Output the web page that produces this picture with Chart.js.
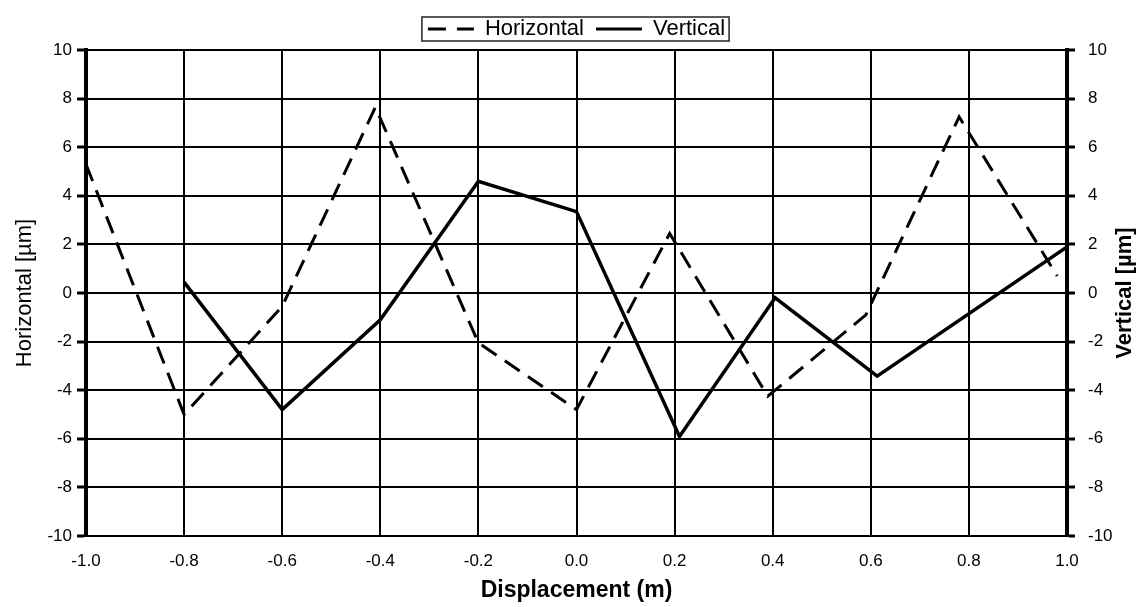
<!DOCTYPE html>
<html>
<head>
<meta charset="utf-8">
<script src="https://cdn.jsdelivr.net/npm/chart.js@4/dist/chart.umd.min.js"></script>
<style>
  html, body { margin: 0; padding: 0; background: #ffffff; }
  #wrap { width: 1140px; height: 607px; }
</style>
</head>
<body>
<div id="wrap"><canvas id="c" width="1140" height="607"></canvas></div>
<script>
// ---- data ----
const seriesNames = ['Horizontal', 'Vertical'];
const horizontalX = [-1.0, -0.8, -0.6, -0.41, -0.2, 0.0, 0.19, 0.39, 0.59, 0.78, 0.98];
const horizontalY = [5.3, -5.0, -0.55, 7.65, -2.05, -4.8, 2.45, -4.25, -0.9, 7.25, 0.7];
const verticalX = [-0.8, -0.6, -0.4, -0.2, 0.0, 0.21, 0.405, 0.613, 1.0];
const verticalY = [0.45, -4.8, -1.1, 4.6, 3.35, -5.9, -0.2, -3.42, 1.9];
const xTickValues = [-1.0, -0.8, -0.6, -0.4, -0.2, 0.0, 0.2, 0.4, 0.6, 0.8, 1.0];
const yTickValues = [-10, -8, -6, -4, -2, 0, 2, 4, 6, 8, 10];
const xTitle = 'Displacement (m)';
const yLeftTitle = 'Horizontal [\u00b5m]';
const yRightTitle = 'Vertical [\u00b5m]';

const FONT = "'Liberation Sans', Arial, Helvetica, sans-serif";
Chart.defaults.font.family = FONT;
Chart.defaults.color = '#000';

const toPts = (xs, ys) => xs.map((x, i) => ({ x: x, y: ys[i] }));

const legendBox = {
  id: 'legendBox',
  afterDraw(chart) {
    const lg = chart.legend;
    if (!lg || !lg.legendHitBoxes || !lg.legendHitBoxes.length) return;
    const hb = lg.legendHitBoxes;
    let l = Infinity, r = -Infinity, t = Infinity, b = -Infinity;
    hb.forEach(h => {
      l = Math.min(l, h.left); r = Math.max(r, h.left + h.width);
      t = Math.min(t, h.top); b = Math.max(b, h.top + h.height);
    });
    const ctx = chart.ctx;
    ctx.save();
    ctx.strokeStyle = '#222';
    ctx.lineWidth = 1.5;
    ctx.strokeRect(l - 6, t - 1, (r - l) + 10, (b - t) + 2);
    ctx.restore();
  }
};

const rightTitle = {
  id: 'rightTitle',
  afterDraw(chart) {
    const ca = chart.chartArea;
    const ctx = chart.ctx;
    ctx.save();
    ctx.translate(1125, (ca.top + ca.bottom) / 2);
    ctx.rotate(-Math.PI / 2);
    ctx.textAlign = 'center';
    ctx.textBaseline = 'middle';
    ctx.fillStyle = '#000';
    ctx.font = 'bold 22px ' + FONT;
    ctx.fillText(yRightTitle, 0, 0);
    ctx.restore();
  }
};

new Chart(document.getElementById('c'), {
  type: 'line',
  data: {
    datasets: [
      {
        label: seriesNames[0],
        data: toPts(horizontalX, horizontalY),
        borderColor: '#000',
        backgroundColor: '#000',
        borderWidth: 3,
        borderDash: [18, 10],
        pointRadius: 0,
        tension: 0,
        fill: false,
        yAxisID: 'y'
      },
      {
        label: seriesNames[1],
        data: toPts(verticalX, verticalY),
        borderColor: '#000',
        backgroundColor: '#000',
        borderWidth: 3.5,
        pointRadius: 0,
        tension: 0,
        fill: false,
        yAxisID: 'y2'
      }
    ]
  },
  options: {
    responsive: false,
    animation: false,
    layout: { padding: 0 },
    plugins: {
      tooltip: { enabled: false },
      legend: {
        display: true,
        position: 'top',
        fullSize: false,
        labels: {
          usePointStyle: true,
          pointStyle: 'line',
          pointStyleWidth: 46,
          padding: 12,
          color: '#000',
          font: { size: 22 },
          generateLabels: (chart) => {
            const items = Chart.defaults.plugins.legend.labels.generateLabels(chart);
            items.forEach(it => {
              const ds = chart.data.datasets[it.datasetIndex];
              it.lineDash = ds.borderDash ? [18, 11] : [];
              it.lineWidth = 3;
              it.strokeStyle = '#000';
              it.pointStyle = 'line';
            });
            return items;
          }
        }
      }
    },
    scales: {
      x: {
        type: 'linear',
        min: -1,
        max: 1,
        afterBuildTicks: (s) => { s.ticks = xTickValues.map(v => ({ value: v })); },
        afterFit: (s) => { s.height = 71; },
        ticks: {
          color: '#000',
          font: { size: 17 },
          padding: 15,
          maxRotation: 0,
          callback: (v) => Number(v).toFixed(1)
        },
        grid: { color: '#000', lineWidth: 2, drawTicks: false },
        border: { display: true, color: '#000', width: 2 },
        title: {
          display: true,
          text: xTitle,
          color: '#000',
          font: { size: 23, weight: 'bold' },
          padding: { top: 4, bottom: 3 }
        }
      },
      y: {
        type: 'linear',
        position: 'left',
        min: -10,
        max: 10,
        afterBuildTicks: (s) => { s.ticks = yTickValues.map(v => ({ value: v })); },
        afterFit: (s) => { s.width = 86; s.paddingTop = 50; },
        ticks: { color: '#000', font: { size: 17 }, padding: 5 },
        grid: { color: '#000', lineWidth: 2, tickLength: 9, tickWidth: 3, tickColor: '#000' },
        border: { display: true, color: '#000', width: 4 },
        title: {
          display: true,
          text: yLeftTitle,
          color: '#000',
          font: { size: 22 },
          padding: { top: 12, bottom: 0 }
        }
      },
      y2: {
        type: 'linear',
        position: 'right',
        min: -10,
        max: 10,
        afterBuildTicks: (s) => { s.ticks = yTickValues.map(v => ({ value: v })); },
        afterFit: (s) => { s.width = 73; },
        ticks: { color: '#000', font: { size: 17 }, padding: 13 },
        grid: { drawOnChartArea: false, color: '#000', lineWidth: 2, tickLength: 8, tickWidth: 3, tickColor: '#000' },
        border: { display: true, color: '#000', width: 4 },
        title: { display: false }
      }
    }
  },
  plugins: [legendBox, rightTitle]
});
</script>
</body>
</html>
